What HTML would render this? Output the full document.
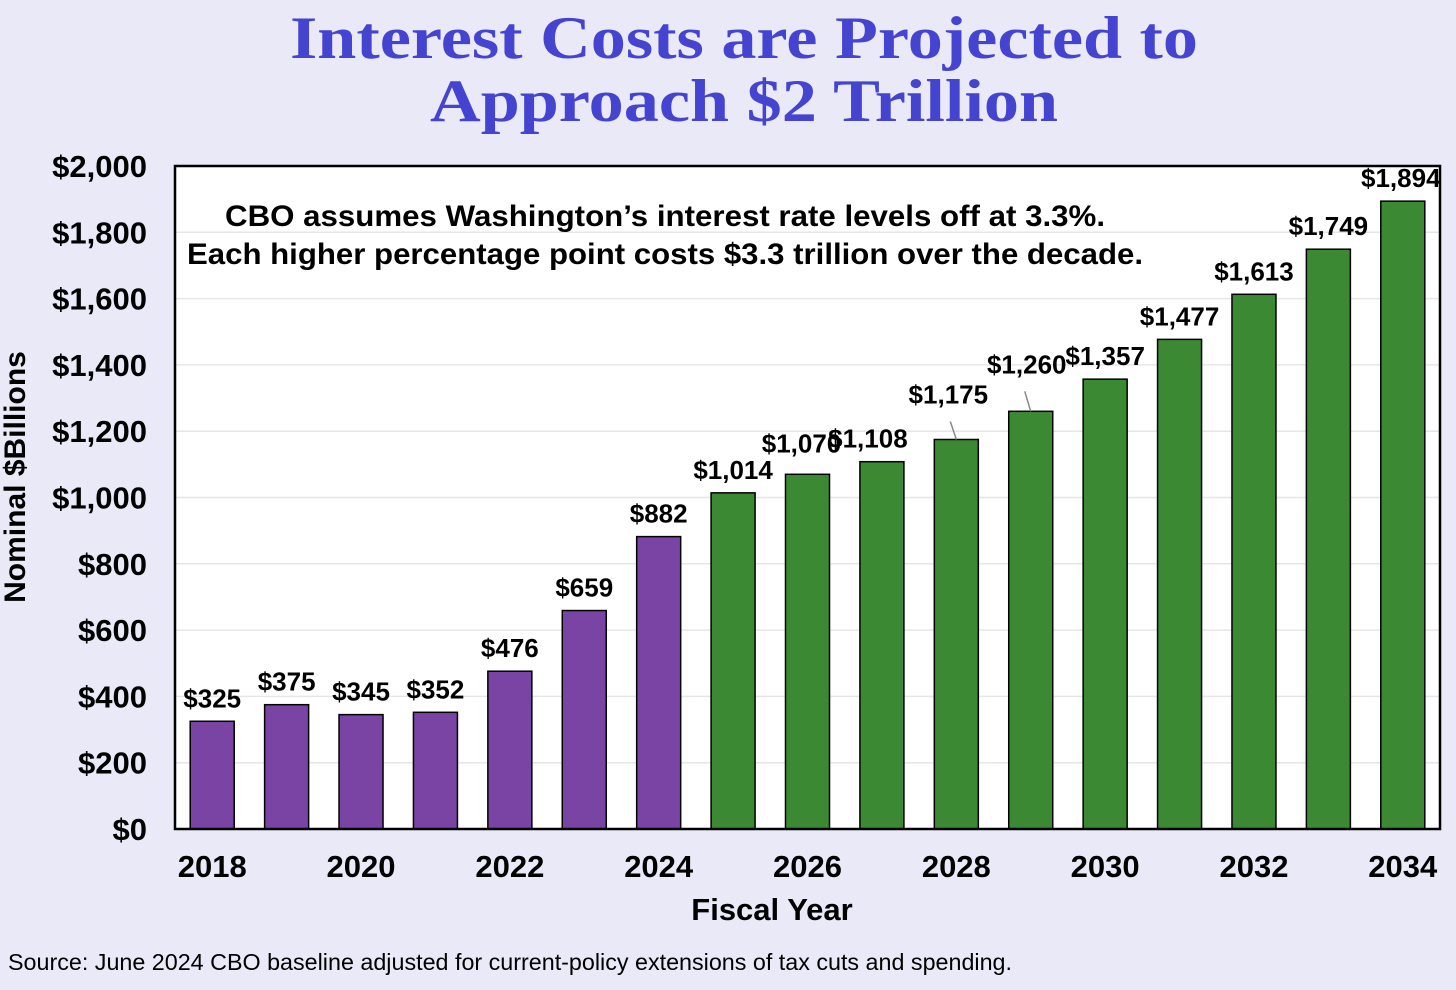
<!DOCTYPE html>
<html><head><meta charset="utf-8"><style>
body{margin:0;background:#e9e9f8;width:1456px;height:985px;overflow:hidden;font-family:"Liberation Sans",sans-serif}
</style></head><body>
<svg width="1456" height="985" xmlns="http://www.w3.org/2000/svg">
<rect width="1456" height="985" fill="#e9e9f8"/>
<text x="290" y="58" textLength="908" lengthAdjust="spacingAndGlyphs" font-family="Liberation Serif,serif" font-weight="bold" font-size="60" fill="#4444d0">Interest Costs are Projected to</text>
<text x="430" y="121" textLength="628" lengthAdjust="spacingAndGlyphs" font-family="Liberation Serif,serif" font-weight="bold" font-size="60" fill="#4444d0">Approach $2 Trillion</text>
<rect x="175" y="166" width="1265" height="663" fill="#fff"/>
<g id="grid"></g><g id="bars"></g><g id="labels"></g><g id="yt"></g><g id="xt"></g>
<rect x="175" y="166" width="1265" height="663" fill="none" stroke="#000" stroke-width="2.5"/>
<text x="225" y="226" textLength="880" lengthAdjust="spacingAndGlyphs" font-weight="bold" font-size="30">CBO assumes Washington’s interest rate levels off at 3.3%.</text>
<text x="187" y="264" textLength="956" lengthAdjust="spacingAndGlyphs" font-weight="bold" font-size="30">Each higher percentage point costs $3.3 trillion over the decade.</text>
<text transform="translate(25,477) rotate(-90)" text-anchor="middle" font-weight="bold" font-size="30">Nominal $Billions</text>
<text x="772" y="920" text-anchor="middle" font-weight="bold" font-size="31">Fiscal Year</text>
<text x="8" y="970" textLength="1004" lengthAdjust="spacingAndGlyphs" font-size="23">Source: June 2024 CBO baseline adjusted for current-policy extensions of tax cuts and spending.</text>
</svg>
<script>
const years=[2018,2019,2020,2021,2022,2023,2024,2025,2026,2027,2028,2029,2030,2031,2032,2033,2034];
const values=[325,375,345,352,476,659,882,1014,1070,1108,1175,1260,1357,1477,1613,1749,1894];
const projectedFrom=2025;
const yTicks=[0,200,400,600,800,1000,1200,1400,1600,1800,2000];
const NS="http://www.w3.org/2000/svg";
const x0=175,pw=1265,y0=829,ph=663,ymax=2000;
const step=pw/years.length;
const X=i=>x0+step*(i+0.5);
const Y=v=>y0-v/ymax*ph;
function mk(t,a,p){const e=document.createElementNS(NS,t);for(const k in a)e.setAttribute(k,a[k]);document.getElementById(p).appendChild(e);return e;}
const fmt=v=>'$'+v.toLocaleString('en-US');
yTicks.forEach(t=>{
  if(t>0&&t<ymax){const g=mk('line',{x1:x0,x2:x0+pw,y1:Y(t),y2:Y(t),stroke:'#e6e6e6','stroke-width':1.5},'grid');
  
  }
  const l=mk('text',{x:147,y:Y(t)+11,'text-anchor':'end','font-weight':'bold','font-size':31},'yt');l.textContent=fmt(t);
  
  
});
const lift={2026:8,2028:22,2029:24};
values.forEach((v,i)=>{
  const proj=years[i]>=projectedFrom;
  const b=mk('rect',{x:X(i)-22,y:Y(v),width:44,height:y0-Y(v),fill:proj?'#3b8a33':'#7944a3',stroke:'#000','stroke-width':1.5},'bars');
  
  
  const d=lift[years[i]]||0;
  if(d>10){const ln=mk('line',{x1:X(i)-6,y1:Y(v)-d+4,x2:X(i),y2:Y(v),stroke:'#888','stroke-width':1.5},'labels');
    
    }
  const dx=years[i]===2026?-6:(years[i]===2027?-14:(years[i]===2028?-8:(years[i]===2029?-4:(years[i]===2034?-2:0))));
  const t=mk('text',{x:X(i)+dx,y:Y(v)-14-d,'text-anchor':'middle','font-weight':'bold','font-size':26},'labels');
  t.textContent=fmt(v);
  
  
  if(i%2===0){const xl=mk('text',{x:X(i),y:877,'text-anchor':'middle','font-weight':'bold','font-size':31},'xt');
    xl.textContent=years[i];
    
    }
});
</script>
</body></html>
